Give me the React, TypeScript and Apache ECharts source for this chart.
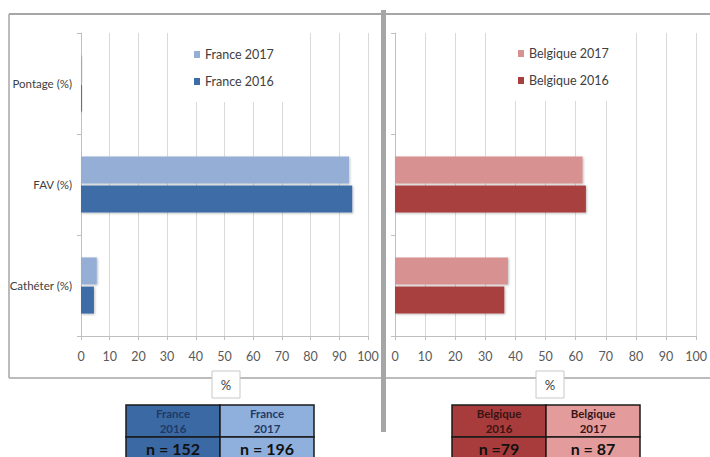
import React, { useEffect, useRef } from "react";
import * as echarts from "echarts";

const categories = ["Pontage (%)", "FAV (%)", "Cathéter (%)"];
const france2017 = [0.3, 93.4, 5.5];
const france2016 = [0.3, 94.5, 4.5];
const belgique2017 = [0, 62.3, 37.5];
const belgique2016 = [0, 63.4, 36.3];
const xTicks = [0, 10, 20, 30, 40, 50, 60, 70, 80, 90, 100];
const franceTable = [["France\n2016", "n = 152"], ["France\n2017", "n = 196"]];
const belgiqueTable = [["Belgique\n2016", "n =79"], ["Belgique\n2017", "n = 87"]];

const FONT = 'Lato, "Liberation Sans", sans-serif';
const C = {
  fr17: "#94aed6",
  fr16: "#3e6ca7",
  be17: "#d69190",
  be16: "#a83f3f",
};

export default function App() {
  const ref = useRef<HTMLDivElement>(null);
  useEffect(() => {
    if (!ref.current) return;
    const chart = echarts.init(ref.current, undefined, { renderer: "svg" });
    const xAxisBase = (gridIndex: number) => ({
      type: "value",
      gridIndex,
      min: 0,
      max: 100,
      interval: 10,
      axisLine: { show: true, lineStyle: { color: "#bfbfbf", width: 1 } },
      axisTick: { show: true, length: 4, lineStyle: { color: "#bfbfbf" } },
      axisLabel: {
        color: "#595959",
        fontSize: 12.5,
        fontFamily: FONT,
        margin: 14,
        formatter: (v: number) => (xTicks.includes(v) ? String(v) : ""),
      },
      splitLine: { show: true, lineStyle: { color: "#d9d9d9", width: 1 } },
    });
    const yAxisBase = (gridIndex: number, showLabel: boolean) => ({
      type: "category",
      gridIndex,
      data: categories,
      inverse: true,
      axisLine: { show: true, lineStyle: { color: "#bfbfbf", width: 1 } },
      axisTick: { show: true, length: 4, lineStyle: { color: "#bfbfbf" } },
      axisLabel: {
        show: showLabel,
        color: "#404040",
        fontSize: 11.5,
        fontFamily: FONT,
        margin: 9,
      },
      splitLine: { show: false },
    });
    const barStyle = (color: string) => ({
      color,
      shadowBlur: 2,
      shadowColor: "rgba(0,0,0,0.25)",
      shadowOffsetX: 1,
      shadowOffsetY: 1,
    });
    const legendBase = {
      orient: "vertical",
      backgroundColor: "#ffffff",
      itemWidth: 6,
      itemHeight: 7,
      itemGap: 14,
      icon: "rect",
      textStyle: { color: "#404040", fontSize: 12.5, fontFamily: FONT },
    };

    const tableGraphics = (
      x0: number,
      cols: string[][],
      colors: string[],
      headColor: string
    ) => {
      const w = [94, 94];
      const out: any[] = [];
      const top = 405;
      const mid = 437;
      const bottom = 462;
      cols.forEach((col, i) => {
        const x = x0 + (i === 0 ? 0 : w[0]);
        out.push({
          type: "rect",
          shape: { x, y: top, width: w[i], height: mid - top },
          style: { fill: colors[i], stroke: "#1a1a1a", lineWidth: 1.5 },
          z: 10,
        });
        out.push({
          type: "rect",
          shape: { x, y: mid, width: w[i], height: bottom - mid },
          style: { fill: colors[i], stroke: "#1a1a1a", lineWidth: 1.5 },
          z: 10,
        });
        out.push({
          type: "text",
          x: x + w[i] / 2,
          y: (top + mid) / 2,
          style: {
            text: col[0],
            fill: headColor,
            fontSize: 11.5,
            fontWeight: "bold",
            fontFamily: FONT,
            lineHeight: 15,
            align: "center",
            verticalAlign: "middle",
            textAlign: "center",
            textVerticalAlign: "middle",
          },
          z: 11,
        });
        out.push({
          type: "text",
          x: x + w[i] / 2,
          y: 448,
          style: {
            text: col[1],
            fill: "#111111",
            fontSize: 16,
            fontWeight: "bold",
            fontFamily: FONT,
            align: "center",
            verticalAlign: "middle",
            textAlign: "center",
            textVerticalAlign: "middle",
          },
          z: 11,
        });
      });
      return out;
    };

    const pctBox = (cx: number) => [
      {
        type: "rect",
        shape: { x: cx - 14, y: 371, width: 28, height: 27 },
        style: { fill: "#ffffff", stroke: "#c8c8c8", lineWidth: 1 },
        z: 10,
      },
      {
        type: "text",
        x: cx,
        y: 385,
        style: {
          text: "%",
          fill: "#404040",
          fontSize: 13,
          fontFamily: FONT,
          align: "center",
          verticalAlign: "middle",
          textAlign: "center",
          textVerticalAlign: "middle",
        },
        z: 11,
      },
    ];

    chart.setOption({
      animation: false,
      backgroundColor: "#ffffff",
      grid: [
        { left: 81, right: 342, top: 33, bottom: 121 },
        { left: 395, right: 10, top: 33, bottom: 121 },
      ],
      xAxis: [xAxisBase(0), xAxisBase(1)],
      yAxis: [yAxisBase(0, true), yAxisBase(1, false)],
      legend: [
        {
          ...legendBase,
          data: ["France 2017", "France 2016"],
          left: 170,
          top: 33,
          padding: [15, 18, 14, 24],
        },
        {
          ...legendBase,
          data: ["Belgique 2017", "Belgique 2016"],
          left: 495,
          top: 33,
          padding: [14, 10, 14, 23],
        },
      ],
      series: [
        {
          name: "France 2017",
          type: "bar",
          xAxisIndex: 0,
          yAxisIndex: 0,
          data: france2017,
          barWidth: 27,
          barGap: "8%",
          itemStyle: barStyle(C.fr17),
        },
        {
          name: "France 2016",
          type: "bar",
          xAxisIndex: 0,
          yAxisIndex: 0,
          data: france2016,
          barWidth: 27,
          barGap: "8%",
          itemStyle: barStyle(C.fr16),
        },
        {
          name: "Belgique 2017",
          type: "bar",
          xAxisIndex: 1,
          yAxisIndex: 1,
          data: belgique2017,
          barWidth: 27,
          barGap: "8%",
          itemStyle: barStyle(C.be17),
        },
        {
          name: "Belgique 2016",
          type: "bar",
          xAxisIndex: 1,
          yAxisIndex: 1,
          data: belgique2016,
          barWidth: 27,
          barGap: "8%",
          itemStyle: barStyle(C.be16),
        },
      ],
      graphic: [
        {
          type: "line",
          shape: { x1: 9, y1: 14, x2: 710, y2: 14 },
          style: { stroke: "#a6a6a6", lineWidth: 2 },
          z: 5,
        },
        {
          type: "line",
          shape: { x1: 9, y1: 14, x2: 9, y2: 378 },
          style: { stroke: "#a6a6a6", lineWidth: 1.5 },
          z: 5,
        },
        {
          type: "line",
          shape: { x1: 9, y1: 378, x2: 710, y2: 378 },
          style: { stroke: "#a6a6a6", lineWidth: 1.5 },
          z: 5,
        },
        {
          type: "rect",
          shape: { x: 381, y: 10, width: 5, height: 422 },
          style: { fill: "#a6a6a6" },
          z: 6,
        },
        ...pctBox(226),
        ...pctBox(550),
        ...tableGraphics(126, franceTable, ["#3b69a4", "#8fb0dc"], "#1f3a66"),
        ...tableGraphics(452, belgiqueTable, ["#a83c3c", "#e39c9b"], "#3a1414"),
      ],
    });
    return () => chart.dispose();
  }, []);
  return (
    <div
      ref={ref}
      style={{ position: "fixed", left: 0, top: 0, width: 710, height: 457 }}
    />
  );
}
